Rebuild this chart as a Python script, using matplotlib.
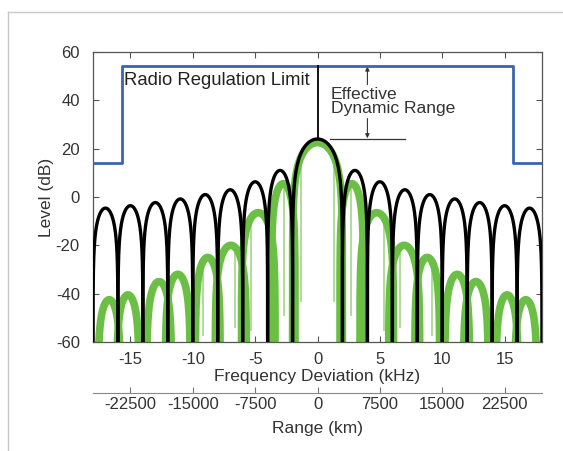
import numpy as np
import matplotlib.pyplot as plt
from matplotlib.lines import Line2D

plt.rcParams['font.family'] = ['Liberation Sans', 'DejaVu Sans']
plt.rcParams['axes.unicode_minus'] = False

# black (ideal) spectrum: lobe edges in kHz and lobe peak levels in dB
black_edges = [-18, -16, -14, -12, -10, -8, -6, -4, -2, 2, 4, 6, 8, 10, 12, 14, 16, 18]
black_peaks = [-4.6, -3.6, -2.3, -0.8, 1.0, 3.0, 6.3, 11.0, 24.0,
               11.0, 6.3, 3.0, 1.0, -0.8, -2.3, -3.6, -4.6]

# green (measured) spectrum: lobes as (left foot, right foot, peak), right half
green_left = [-2.0, 1.8, 3.4, 5.7, 7.8, 10.2, 11.7, 14.3, 15.8]
green_right = [2.0, 3.7, 6.1, 8.2, 9.8, 12.2, 13.7, 16.1, 17.6]
green_peaks = [22.5, 5.5, -6.5, -20.0, -25.0, -32.0, -35.0, -40.5, -42.5]

# thin notches in the green trace (right half, mirrored)
notch_x = [1.3, 2.65, 5.3, 6.6, 9.2, 10.5]
notch_bottom = [-43, -49, -55, -54, -57, -58]

# radio regulation limit mask
reg_x = [-18, -15.7, -15.7, 15.7, 15.7, 18]
reg_y = [14, 14, 54, 54, 14, 14]

freq_ticks = [-15, -10, -5, 0, 5, 10, 15]
range_ticks = [-22500, -15000, -7500, 0, 7500, 15000, 22500]
km_per_khz = 1500


def lobe(a, b, p, n=400):
    x = np.linspace(a, b, n)
    s = np.sin(np.pi * (x - a) / (b - a))
    return x, p + 20 * np.log10(np.maximum(s, 1e-6))


gl = [-r for r in green_right[1:]][::-1] + green_left
gr = [-l for l in green_left[1:]][::-1] + green_right
gp = green_peaks[1:][::-1] + green_peaks

fig = plt.figure(figsize=(5.63, 4.51), dpi=100)
ax = fig.add_axes([0.1652, 0.2417, 0.7975, 0.643])

# green lobes drawn one by one (they overlap)
xe = np.linspace(-18, 18, 3601)
env = np.full_like(xe, -200.0)
for a, b, p in zip(gl, gr, gp):
    x, y = lobe(a, b, p)
    ax.plot(x, y, color='#6cbf45', lw=5.5, zorder=2, solid_capstyle='butt')
    env = np.maximum(env, np.interp(xe, x, y, left=-200, right=-200))

# notches hanging under the green trace
for nx, nb in zip(notch_x, notch_bottom):
    for sx in (-nx, nx):
        top = np.interp(sx, xe, env)
        ax.plot([sx, sx], [nb, top], color='#a9d98f', lw=1.3, zorder=1)

# black lobes
for a, b, p in zip(black_edges[:-1], black_edges[1:], black_peaks):
    x, y = lobe(a, b, p)
    ax.plot(x, y, color='black', lw=2.4, zorder=3)

ax.plot(reg_x, reg_y, color='#3c62b0', lw=2.0, zorder=4)

# main-lobe marker and dynamic range annotation
ax.plot([0, 0], [24, 54], color='black', lw=1.3, zorder=4)
ax.plot([1.0, 7.0], [24, 24], color='#333333', lw=0.9)
ax.annotate('', xy=(4.0, 54), xytext=(4.0, 46.5),
            arrowprops=dict(arrowstyle='-|>', color='#333333', lw=0.8,
                            mutation_scale=6, shrinkA=0, shrinkB=0))
ax.annotate('', xy=(4.0, 24.3), xytext=(4.0, 32.5),
            arrowprops=dict(arrowstyle='-|>', color='#333333', lw=0.8,
                            mutation_scale=6, shrinkA=0, shrinkB=0))
ax.text(1.05, 39.5, 'Effective\nDynamic Range', fontsize=12.6, color='#333333',
        ha='left', va='center', linespacing=0.85)
ax.text(-15.5, 48.3, 'Radio Regulation Limit', fontsize=13.3, color='#222222',
        ha='left', va='center')

ax.set_xlim(-18, 18)
ax.set_ylim(-60, 60)
ax.set_xticks(freq_ticks)
ax.set_yticks(np.arange(-60, 61, 20))
ax.tick_params(direction='in', top=True, right=True, length=4, width=0.8,
               labelsize=12, labelcolor='#333333', color='#555555')
ax.tick_params(axis='x', pad=7.5)
ax.tick_params(axis='y', pad=9.5)
for s in ax.spines.values():
    s.set_color('#555555')
    s.set_linewidth(0.9)
ax.set_xlabel('Frequency Deviation (kHz)', fontsize=12.5, color='#333333', labelpad=1.5)
ax.set_ylabel('Level (dB)', fontsize=12.5, color='#333333', labelpad=1)

sec = ax.secondary_xaxis(-0.176, functions=(lambda f: f * km_per_khz,
                                              lambda r: r / km_per_khz))
sec.set_xticks(range_ticks)
sec.tick_params(direction='in', length=4, width=0.8, labelsize=12,
                labelcolor='#333333', color='#777777', pad=3)
sec.spines['bottom'].set_color('#888888')
sec.set_xlabel('Range (km)', fontsize=12.5, color='#333333', labelpad=6.5)

# light page border
fig.add_artist(Line2D([8 / 563, 1], [1 - 12 / 451] * 2, transform=fig.transFigure,
                      color='#c8c8c8', lw=1))
fig.add_artist(Line2D([8 / 563] * 2, [0, 1 - 12 / 451], transform=fig.transFigure,
                      color='#c8c8c8', lw=1))

fig.savefig('out.png', dpi=100)
